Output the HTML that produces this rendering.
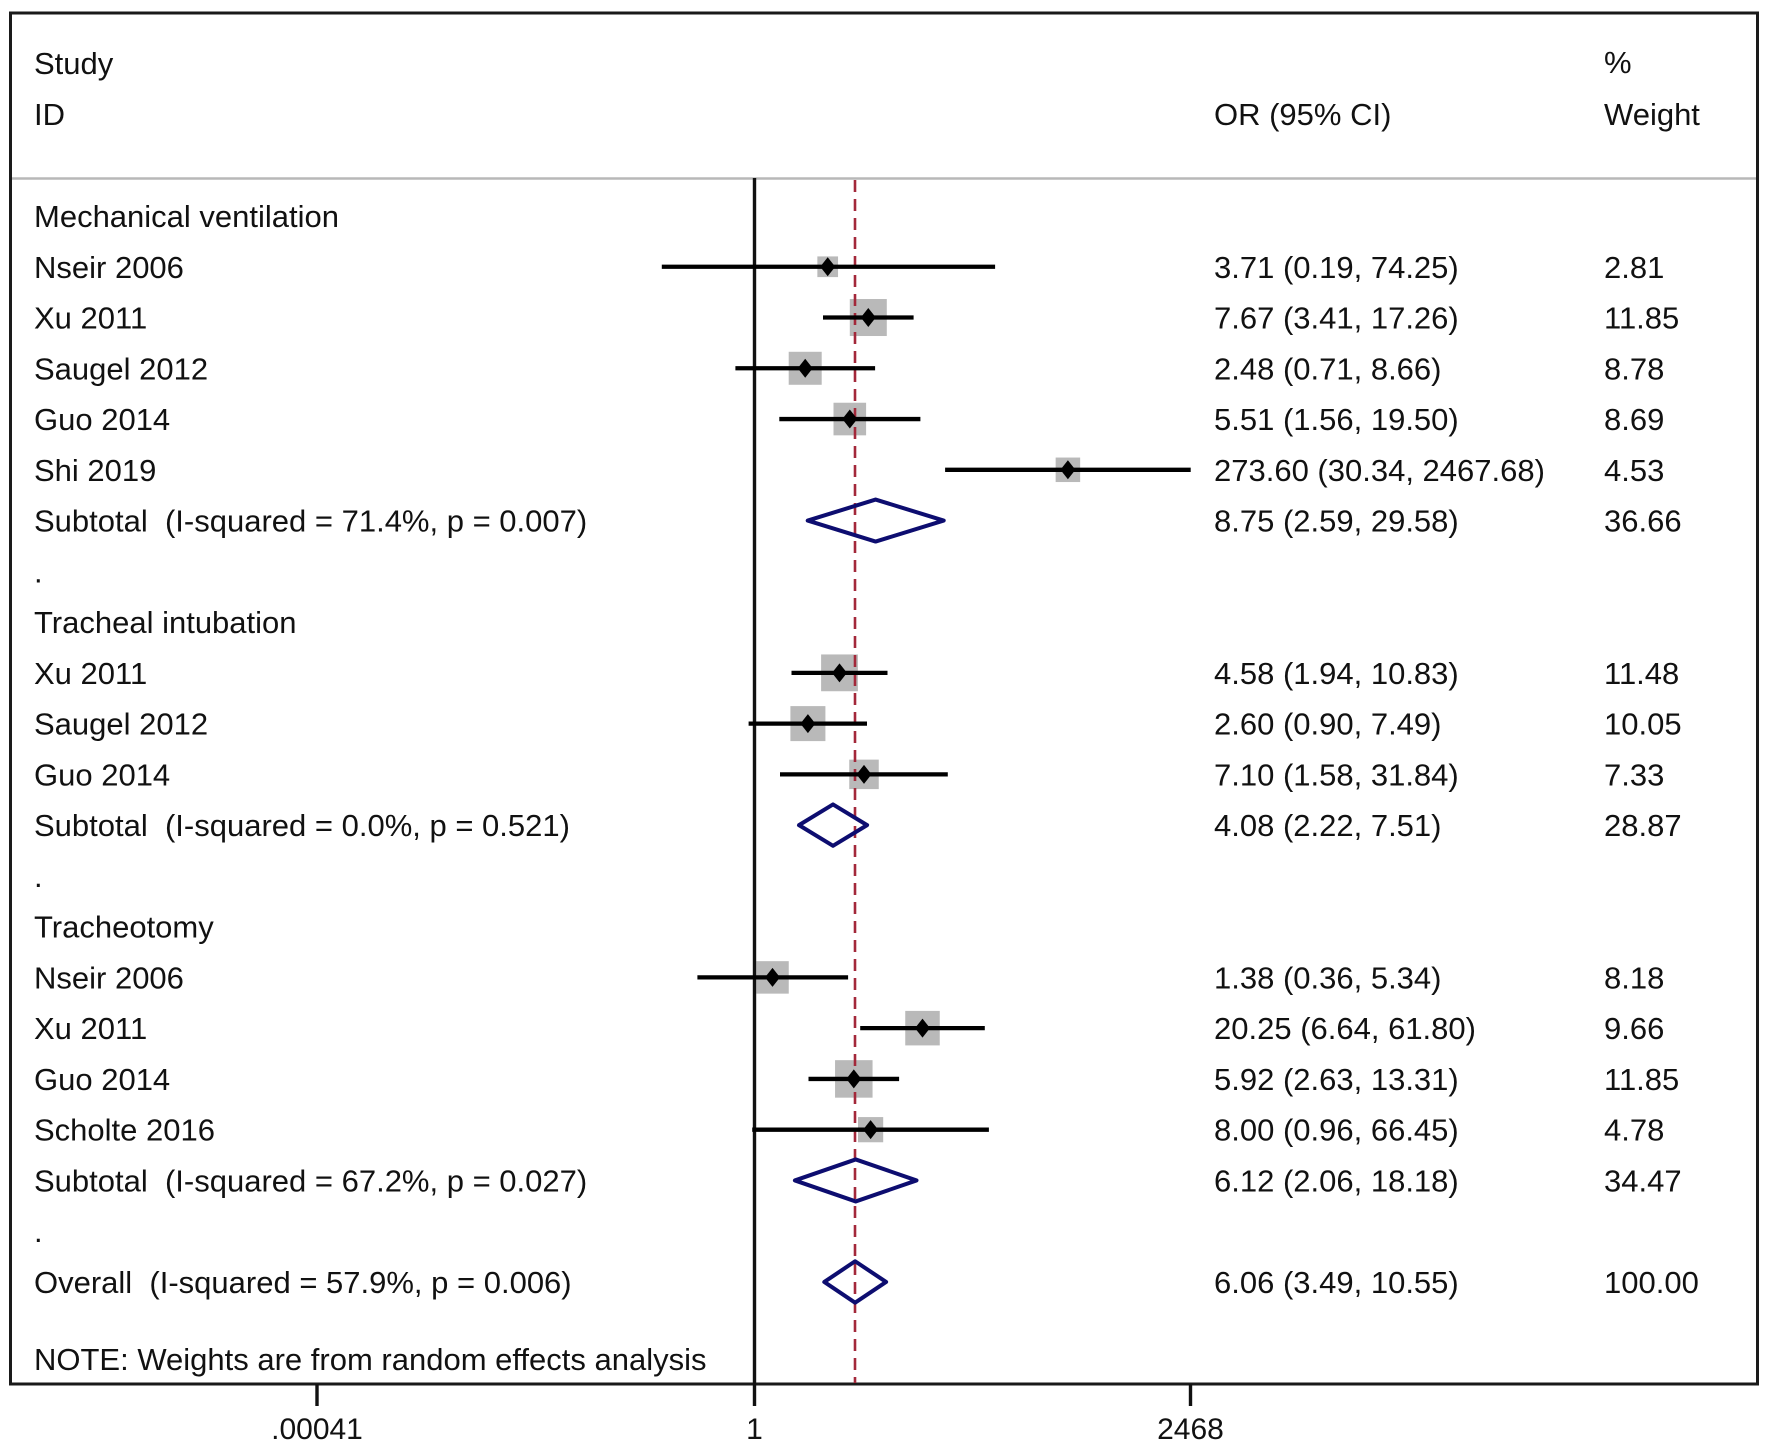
<!DOCTYPE html>
<html>
<head>
<meta charset="utf-8">
<style>
html,body{margin:0;padding:0;background:#fff;}
svg{display:block;}
text{font-family:"Liberation Sans",Arial,sans-serif;fill:#111;white-space:pre;}
</style>
</head>
<body>
<svg width="1772" height="1450" viewBox="0 0 1772 1450" xmlns="http://www.w3.org/2000/svg">
<rect x="0" y="0" width="1772" height="1450" fill="#fff"/>
<!-- border -->
<rect x="10.5" y="13" width="1747" height="1371" fill="none" stroke="#1a1a1a" stroke-width="3"/>
<!-- header separator -->
<line x1="12" y1="178.5" x2="1756" y2="178.5" stroke="#b8b8b8" stroke-width="2.5"/>

<!-- weight squares -->
<g fill="#b9b9b9">
<rect x="817.35" y="256.41" width="20.7" height="20.7"/>
<rect x="849.8" y="299.02" width="37" height="37"/>
<rect x="788.7" y="351.78" width="33" height="33"/>
<rect x="833.5" y="402.74" width="32.6" height="32.6"/>
<rect x="1055.65" y="457.55" width="24.5" height="24.5"/>
<rect x="821.1" y="654.44" width="36.8" height="36.8"/>
<rect x="790.4" y="706.1" width="35" height="35"/>
<rect x="849.25" y="759.61" width="29.5" height="29.5"/>
<rect x="756.25" y="961.15" width="32.5" height="32.5"/>
<rect x="905.25" y="1010.91" width="34.5" height="34.5"/>
<rect x="835.05" y="1060.17" width="37.5" height="37.5"/>
<rect x="858" y="1117.08" width="25.2" height="25.2"/>
</g>

<!-- null line + ticks -->
<line x1="754.5" y1="178" x2="754.5" y2="1406" stroke="#111" stroke-width="3.4"/>
<line x1="317" y1="1384" x2="317" y2="1406" stroke="#111" stroke-width="3.4"/>
<line x1="1190.5" y1="1384" x2="1190.5" y2="1406" stroke="#111" stroke-width="3.4"/>

<!-- overall dashed line -->
<line x1="855" y1="180" x2="855" y2="1383" stroke="#a3283a" stroke-width="2.6" stroke-dasharray="12 7"/>

<!-- CI lines -->
<g stroke="#000" stroke-width="4.3">
<line x1="661.8" y1="266.76" x2="995.1" y2="266.76"/>
<line x1="823.0" y1="317.52" x2="913.6" y2="317.52"/>
<line x1="735.4" y1="368.28" x2="875.1" y2="368.28"/>
<line x1="779.3" y1="419.04" x2="920.4" y2="419.04"/>
<line x1="945.1" y1="469.8" x2="1190.7" y2="469.8"/>
<line x1="791.5" y1="672.84" x2="887.5" y2="672.84"/>
<line x1="748.6" y1="723.6" x2="867.0" y2="723.6"/>
<line x1="780.0" y1="774.36" x2="947.8" y2="774.36"/>
<line x1="697.4" y1="977.4" x2="848.1" y2="977.4"/>
<line x1="860.2" y1="1028.16" x2="984.8" y2="1028.16"/>
<line x1="808.5" y1="1078.92" x2="899.1" y2="1078.92"/>
<line x1="752.2" y1="1129.68" x2="988.9" y2="1129.68"/>
</g>

<!-- point markers -->
<g fill="#000">
<polygon points="820.2,266.76 827.7,257.26 835.2,266.76 827.7,276.26"/>
<polygon points="860.8,317.52 868.3,308.02 875.8,317.52 868.3,327.02"/>
<polygon points="797.7,368.28 805.2,358.78 812.7,368.28 805.2,377.78"/>
<polygon points="842.3,419.04 849.8,409.54 857.3,419.04 849.8,428.54"/>
<polygon points="1060.4,469.8 1067.9,460.3 1075.4,469.8 1067.9,479.3"/>
<polygon points="832.0,672.84 839.5,663.34 847.0,672.84 839.5,682.34"/>
<polygon points="800.4,723.6 807.9,714.1 815.4,723.6 807.9,733.1"/>
<polygon points="856.5,774.36 864.0,764.86 871.5,774.36 864.0,783.86"/>
<polygon points="765.0,977.4 772.5,967.9 780.0,977.4 772.5,986.9"/>
<polygon points="915.0,1028.16 922.5,1018.66 930.0,1028.16 922.5,1037.66"/>
<polygon points="846.3,1078.92 853.8,1069.42 861.3,1078.92 853.8,1088.42"/>
<polygon points="863.1,1129.68 870.6,1120.18 878.1,1129.68 870.6,1139.18"/>
</g>

<!-- pooled diamonds -->
<g fill="none" stroke="#0d0d70" stroke-width="4" stroke-linejoin="round">
<polygon points="807.7,520.56 875.6,499.56 943.7,520.56 875.6,541.56"/>
<polygon points="799.0,825.12 833.0,804.42 867.1,825.12 833.0,845.82"/>
<polygon points="794.9,1180.44 855.7,1159.44 916.5,1180.44 855.7,1201.44"/>
<polygon points="824.3,1281.96 855.1,1261.26 886.1,1281.96 855.1,1302.66"/>
</g>

<!-- text -->
<g font-size="31">
<text x="34" y="74">Study</text>
<text x="34" y="125">ID</text>
<text x="1604" y="73">%</text>
<text x="1214" y="125">OR (95% CI)</text>
<text x="1604" y="125">Weight</text>

<text x="34" y="227">Mechanical ventilation</text>
<text x="34" y="277.8">Nseir 2006</text>
<text x="34" y="328.5">Xu 2011</text>
<text x="34" y="379.3">Saugel 2012</text>
<text x="34" y="430">Guo 2014</text>
<text x="34" y="480.8">Shi 2019</text>
<text x="34" y="531.6">Subtotal  (I-squared = 71.4%, p = 0.007)</text>
<text x="34" y="582.3">.</text>
<text x="34" y="633.1">Tracheal intubation</text>
<text x="34" y="683.8">Xu 2011</text>
<text x="34" y="734.6">Saugel 2012</text>
<text x="34" y="785.4">Guo 2014</text>
<text x="34" y="836.1">Subtotal  (I-squared = 0.0%, p = 0.521)</text>
<text x="34" y="886.9">.</text>
<text x="34" y="937.6">Tracheotomy</text>
<text x="34" y="988.4">Nseir 2006</text>
<text x="34" y="1039.2">Xu 2011</text>
<text x="34" y="1089.9">Guo 2014</text>
<text x="34" y="1140.7">Scholte 2016</text>
<text x="34" y="1191.4">Subtotal  (I-squared = 67.2%, p = 0.027)</text>
<text x="34" y="1242.2">.</text>
<text x="34" y="1293">Overall  (I-squared = 57.9%, p = 0.006)</text>
<text x="34" y="1370">NOTE: Weights are from random effects analysis</text>

<text x="1214" y="277.8">3.71 (0.19, 74.25)</text>
<text x="1214" y="328.5">7.67 (3.41, 17.26)</text>
<text x="1214" y="379.3">2.48 (0.71, 8.66)</text>
<text x="1214" y="430">5.51 (1.56, 19.50)</text>
<text x="1214" y="480.8">273.60 (30.34, 2467.68)</text>
<text x="1214" y="531.6">8.75 (2.59, 29.58)</text>
<text x="1214" y="683.8">4.58 (1.94, 10.83)</text>
<text x="1214" y="734.6">2.60 (0.90, 7.49)</text>
<text x="1214" y="785.4">7.10 (1.58, 31.84)</text>
<text x="1214" y="836.1">4.08 (2.22, 7.51)</text>
<text x="1214" y="988.4">1.38 (0.36, 5.34)</text>
<text x="1214" y="1039.2">20.25 (6.64, 61.80)</text>
<text x="1214" y="1089.9">5.92 (2.63, 13.31)</text>
<text x="1214" y="1140.7">8.00 (0.96, 66.45)</text>
<text x="1214" y="1191.4">6.12 (2.06, 18.18)</text>
<text x="1214" y="1293">6.06 (3.49, 10.55)</text>

<text x="1604" y="277.8">2.81</text>
<text x="1604" y="328.5">11.85</text>
<text x="1604" y="379.3">8.78</text>
<text x="1604" y="430">8.69</text>
<text x="1604" y="480.8">4.53</text>
<text x="1604" y="531.6">36.66</text>
<text x="1604" y="683.8">11.48</text>
<text x="1604" y="734.6">10.05</text>
<text x="1604" y="785.4">7.33</text>
<text x="1604" y="836.1">28.87</text>
<text x="1604" y="988.4">8.18</text>
<text x="1604" y="1039.2">9.66</text>
<text x="1604" y="1089.9">11.85</text>
<text x="1604" y="1140.7">4.78</text>
<text x="1604" y="1191.4">34.47</text>
<text x="1604" y="1293">100.00</text>
</g>

<!-- axis tick labels -->
<g font-size="30" text-anchor="middle">
<text x="317" y="1439">.00041</text>
<text x="754.5" y="1439">1</text>
<text x="1190.5" y="1439">2468</text>
</g>
</svg>
</body>
</html>
